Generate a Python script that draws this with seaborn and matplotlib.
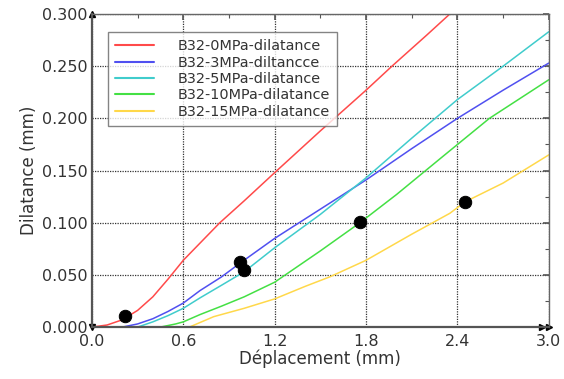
import numpy as np
import pandas as pd
import matplotlib
matplotlib.use("Agg")
import matplotlib.pyplot as plt
import seaborn as sns
from matplotlib.ticker import MultipleLocator, FormatStrFormatter

# ---- data ----
labels = ["B32-0MPa-dilatance", "B32-3MPa-diltancce", "B32-5MPa-dilatance",
          "B32-10MPa-dilatance", "B32-15MPa-dilatance"]
colors = ["#ff4a4a", "#5050f0", "#40cccc", "#44e044", "#ffd84a"]

red_x = [0, 0.1, 0.2, 0.3, 0.4, 0.5, 0.6, 0.7, 0.84, 1.0, 1.2, 1.5, 1.8, 1.97, 2.2, 2.35, 2.45]
red_y = [0, 0.002, 0.007, 0.016, 0.029, 0.046, 0.064, 0.079, 0.1, 0.121, 0.148, 0.188, 0.227, 0.25, 0.28, 0.3, 0.313]

blue_x = [0.2, 0.3, 0.4, 0.5, 0.6, 0.71, 0.85, 0.97, 1.2, 1.5, 1.8, 2.1, 2.4, 2.7, 3.0]
blue_y = [0, 0.003, 0.008, 0.015, 0.023, 0.035, 0.048, 0.061, 0.085, 0.113, 0.141, 0.171, 0.2, 0.227, 0.253]

cyan_x = [0.3, 0.4, 0.5, 0.6, 0.71, 0.85, 1.0, 1.2, 1.5, 1.8, 2.1, 2.4, 2.7, 3.0]
cyan_y = [0, 0.005, 0.011, 0.018, 0.028, 0.04, 0.053, 0.076, 0.108, 0.143, 0.181, 0.218, 0.25, 0.283]

green_x = [0.45, 0.55, 0.6, 0.71, 0.85, 1.0, 1.2, 1.27, 1.5, 1.76, 2.0, 2.3, 2.61, 3.0]
green_y = [0, 0.003, 0.005, 0.012, 0.02, 0.029, 0.043, 0.05, 0.073, 0.1, 0.127, 0.163, 0.2, 0.237]

yellow_x = [0.64, 0.8, 1.0, 1.2, 1.4, 1.56, 1.8, 2.1, 2.35, 2.45, 2.7, 3.0]
yellow_y = [0, 0.01, 0.018, 0.027, 0.039, 0.048, 0.064, 0.089, 0.109, 0.12, 0.138, 0.165]

dots_x = [0.22, 0.97, 1.0, 1.76, 2.45]
dots_y = [0.0105, 0.062, 0.055, 0.101, 0.12]

xticks = [0.0, 0.6, 1.2, 1.8, 2.4, 3.0]
yticks = [0.0, 0.05, 0.1, 0.15, 0.2, 0.25, 0.3]

# ---- build table ----
series_x = [red_x, blue_x, cyan_x, green_x, yellow_x]
series_y = [red_y, blue_y, cyan_y, green_y, yellow_y]
frames = []
for lab, xs, ys in zip(labels, series_x, series_y):
    frames.append(pd.DataFrame({"x": xs, "y": ys, "serie": lab}))
df = pd.concat(frames, ignore_index=True)
dots = pd.DataFrame({"x": dots_x, "y": dots_y})

sns.set_style("white")
plt.rcParams["font.family"] = ["DejaVu Sans"]

fig = plt.figure(figsize=(5.64, 3.79), dpi=100)
ax = fig.add_axes([0.163, 0.137, 0.81, 0.826])

sns.lineplot(data=df, x="x", y="y", hue="serie", hue_order=labels,
             palette=colors, linewidth=1.1, sort=False, estimator=None, ax=ax)
sns.scatterplot(data=dots, x="x", y="y", color="black", s=80, edgecolor="black",
                zorder=5, ax=ax, legend=False)

ax.set_xlim(0, 3.0)
ax.set_ylim(0, 0.3)
ax.set_xticks(xticks)
ax.set_yticks(yticks)
ax.xaxis.set_major_formatter(FormatStrFormatter("%.1f"))
ax.yaxis.set_major_formatter(FormatStrFormatter("%.3f"))
ax.xaxis.set_minor_locator(MultipleLocator(0.3))
ax.yaxis.set_minor_locator(MultipleLocator(0.025))
ax.tick_params(which="both", direction="in", top=True, right=True, colors="#555555",
               labelcolor="#333333", labelsize=11.5)
ax.tick_params(which="major", length=4, width=1.2)
ax.tick_params(which="minor", length=3, width=0.8)
ax.tick_params(axis="x", which="major", pad=5)
ax.tick_params(axis="y", which="major", pad=3)
ax.grid(True, which="major", linestyle=(0, (1, 1)), color="#333333", linewidth=0.9)

for side in ["left", "bottom"]:
    ax.spines[side].set_color("#555555")
    ax.spines[side].set_linewidth(1.6)
for side in ["top", "right"]:
    ax.spines[side].set_color("#666666")
    ax.spines[side].set_linewidth(1.0)
    ax.spines[side].set_visible(True)

ax.set_xlabel("Déplacement (mm)", fontsize=12, color="#333333", labelpad=0)
ax.set_ylabel("Dilatance (mm)", fontsize=12, color="#333333", labelpad=3)

# small arrowheads at axis ends
ax.plot([0], [1.0], marker="^", color="black", markersize=4, transform=ax.transAxes, clip_on=False)
ax.plot([0], [0.0], marker="v", color="black", markersize=4, transform=ax.transAxes, clip_on=False)
ax.plot([0.985, 1.0], [0, 0], marker=">", linestyle="none", color="black", markersize=4,
        transform=ax.transAxes, clip_on=False)

leg = ax.legend(loc="upper left", bbox_to_anchor=(0.035, 0.942), borderaxespad=0,
                fontsize=10.4, frameon=True, fancybox=False, handlelength=2.7,
                handletextpad=1.6, labelspacing=0.16, borderpad=0.5)
leg.get_frame().set_edgecolor("#666666")
leg.get_frame().set_linewidth(1.0)
for t in leg.get_texts():
    t.set_color("#333333")
for h in leg.get_lines():
    h.set_linewidth(1.5)

fig.savefig("out.png", dpi=100)
